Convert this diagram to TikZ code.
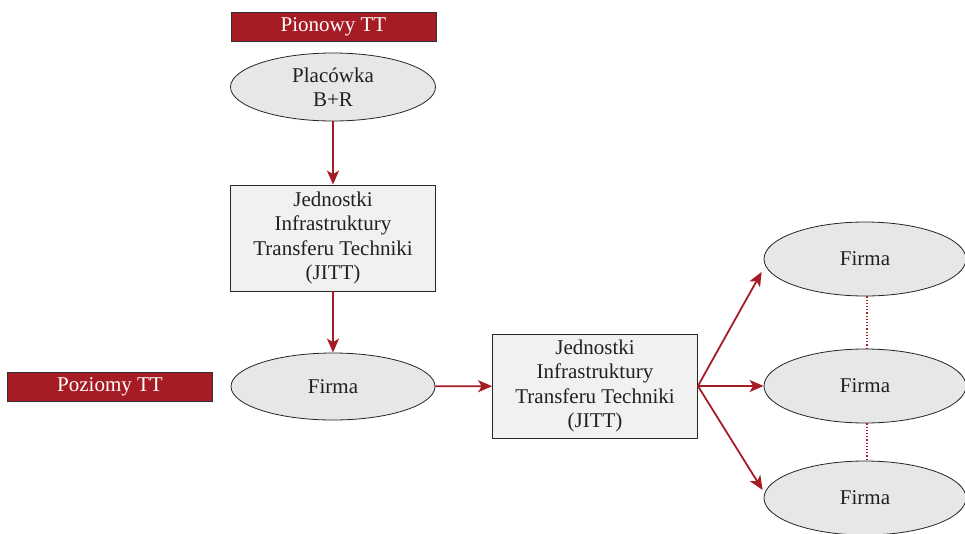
\documentclass[tikz,border=0pt]{standalone}
\usepackage{fontspec}
\setmainfont{Liberation Serif}
\usetikzlibrary{shapes.geometric,arrows.meta,calc}
\definecolor{ttred}{HTML}{A61C25}
\definecolor{ellfill}{HTML}{E6E7E8}
\definecolor{boxfill}{HTML}{F1F1F1}
\definecolor{txt}{HTML}{231F20}
\tikzset{
  every node/.style={font=\fontsize{21}{24.5}\selectfont, text=txt},
  titlebox/.style={draw=black!80, line width=0.8pt, fill=ttred, text=white, minimum width=205pt, minimum height=29pt, inner sep=0pt},
  ell/.style={ellipse, draw=black!85, line width=0.8pt, fill=ellfill, inner sep=0pt, align=center},
  jbox/.style={rectangle, draw=black!85, line width=0.8pt, fill=boxfill, minimum width=205pt, inner sep=0pt, align=center},
  conn/.style={draw=ttred, line width=1.8pt, -{Stealth[length=14pt,width=12pt,inset=3.5pt]}},
  dots/.style={draw=ttred, line width=1.2pt, dotted}
}
\begin{document}
\begin{tikzpicture}[x=1pt,y=-1pt]
\useasboundingbox (0,0) rectangle (965,533);
\node[titlebox] (pion) at (333.5,26.5) {Pionowy TT};
\node[titlebox] (poz) at (110,387) {Poziomy TT};
\node[ell, minimum width=205pt, minimum height=68pt] (plac) at (333,87) {Placówka\\B+R};
\node[jbox, minimum height=106pt] (j1) at (333,238) {Jednostki\\Infrastruktury\\Transferu Techniki\\(JITT)};
\node[ell, minimum width=204pt, minimum height=67pt] (firma) at (333,386.5) {Firma};
\node[jbox, minimum height=104pt] (j2) at (595,386) {Jednostki\\Infrastruktury\\Transferu Techniki\\(JITT)};
\node[ell, minimum width=202pt, minimum height=74pt] (f1) at (865,259) {Firma};
\node[ell, minimum width=202pt, minimum height=74pt] (f2) at (865,386) {Firma};
\node[ell, minimum width=202pt, minimum height=74pt] (f3) at (865,498) {Firma};
\draw[conn] (plac) -- (j1);
\draw[conn] (j1) -- (firma);
\draw[conn] (firma) -- (j2);
\draw[conn] (j2.east) -- ($(f1.west)+(-2,13)$);
\draw[conn] (j2.east) -- (f2.west);
\draw[conn] (j2.east) -- ($(f3.west)+(-1,-8)$);
\draw[dots] ($(f1.south)+(2,0)$) -- ($(f2.north)+(2,0)$);
\draw[dots] ($(f2.south)+(2,0)$) -- ($(f3.north)+(2,0)$);
\end{tikzpicture}
\end{document}
